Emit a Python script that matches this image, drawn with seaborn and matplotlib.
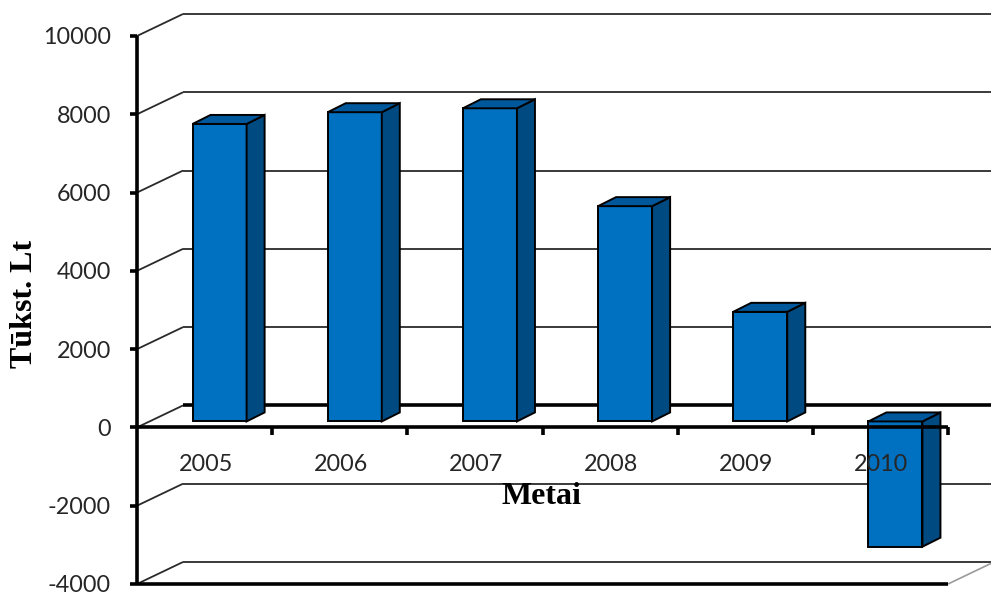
import numpy as np
import pandas as pd
import seaborn as sns
import matplotlib
matplotlib.use("Agg")
import matplotlib.pyplot as plt
from matplotlib.patches import Polygon
from matplotlib.lines import Line2D
from matplotlib.transforms import IdentityTransform

# --- data -------------------------------------------------------------
years = ["2005", "2006", "2007", "2008", "2009", "2010"]
values = [7600, 7900, 8000, 5500, 2800, -3200]
y_ticks = [-4000, -2000, 0, 2000, 4000, 6000, 8000, 10000]
y_label = "Tūkst. Lt"
x_label = "Metai"

# --- styling ----------------------------------------------------------
FRONT = "#0070C0"
SIDE = "#004A82"
TOP = "#00589C"
GRID = "#2a2a2a"
TICK_TXT = "#262626"

W, H = 991, 596
sns.set_theme(style="white")
fig = plt.figure(figsize=(W / 100, H / 100), dpi=100)
fig.patch.set_facecolor("white")

# front plane of the plot box (pixels) -> axes rectangle
left_px, right_px, top_px, bot_px = 137, 948, 36, 584
ax = fig.add_axes([left_px / W, (H - bot_px) / H,
                   (right_px - left_px) / W, (bot_px - top_px) / H])

df = pd.DataFrame({"year": years, "value": values})
sns.barplot(data=df, x="year", y="value", ax=ax, width=0.4, color=FRONT,
            saturation=1, edgecolor="black", linewidth=1.3, zorder=3)
ax.set_xlim(-0.5, len(years) - 0.5)
ax.set_ylim(min(y_ticks), max(y_ticks))
ax.axis("off")

fig.canvas.draw()
T = ax.transData
ident = IdentityTransform()

WALL = np.array([46.0, 22.0])      # depth of the box (display px, y up)
BAR_SHIFT = np.array([15.0, 6.0])  # front face of the bars inside the box
BAR_DEPTH = np.array([18.0, 9.0])  # thickness of each bar


def disp(x, y):
    return np.asarray(T.transform((x, y)), dtype=float)


def line(p, q, lw, color, z):
    fig.add_artist(Line2D([p[0], q[0]], [p[1], q[1]], lw=lw, color=color,
                          zorder=z, transform=ident, solid_capstyle="butt"))


def text(p, s, **kw):
    fig.text(p[0], p[1], s, transform=ident, **kw)


x0, x1 = -0.5, len(years) - 0.5
right_edge = W + 5

# back wall and left side wall lines
for v in y_ticks:
    a = disp(x0, v)
    b = a + WALL
    lw = 2.6 if v == 0 else 1.3
    line(a, b, 1.3, GRID, 1)
    line(b, (right_edge, b[1]), lw, "black" if v == 0 else GRID, 1)

# right edge of the floor
fl = disp(x1, min(y_ticks))
line(fl, fl + WALL, 1.2, "#9a9a9a", 1)

# bars: move front faces inside the box, then add side and top faces
for p in ax.patches:
    bx, by, bw, bh = p.get_x(), p.get_y(), p.get_width(), p.get_height()
    ll = disp(bx, by) + BAR_SHIFT
    ur = disp(bx + bw, by + bh) + BAR_SHIFT
    xl, xr = ll[0], ur[0]
    yb, yt = min(ll[1], ur[1]), max(ll[1], ur[1])
    p.set_visible(False)
    fig.add_artist(Polygon([(xl, yb), (xr, yb), (xr, yt), (xl, yt)],
                           closed=True, facecolor=FRONT, edgecolor="black",
                           lw=1.4, zorder=4, transform=ident))
    d = BAR_DEPTH
    fig.add_artist(Polygon([(xr, yb), (xr + d[0], yb + d[1]),
                            (xr + d[0], yt + d[1]), (xr, yt)],
                           closed=True, facecolor=SIDE, edgecolor="black",
                           lw=1.4, zorder=4, transform=ident))
    fig.add_artist(Polygon([(xl, yt), (xr, yt), (xr + d[0], yt + d[1]),
                            (xl + d[0], yt + d[1])],
                           closed=True, facecolor=TOP, edgecolor="black",
                           lw=1.4, zorder=4, transform=ident))

# front value axis with ticks and labels
ya = disp(x0, max(y_ticks))
yb_ = disp(x0, min(y_ticks))
line(ya, yb_, 2.6, "black", 6)
for v in y_ticks:
    a = disp(x0, v)
    line((a[0] - 7, a[1]), a, 2.6, "black", 6)
    text((a[0] - 26, a[1] - 2), f"{v}", ha="right", va="center",
         fontsize=16.8, family="Lato", color=TICK_TXT, zorder=7)

# category axis at zero and floor edge
z0 = disp(x0, 0)
z1 = disp(x1, 0)
line(z0, z1, 2.6, "black", 6)
for k in range(1, len(years) + 1):
    t = disp(x0 + k, 0)
    line(t, (t[0], t[1] - 8), 2.6, "black", 6)
f0 = disp(x0, min(y_ticks))
f1 = disp(x1, min(y_ticks))
line(f0, f1, 2.6, "black", 6)

for i, yr in enumerate(years):
    c = disp(i, 0)
    text((c[0] + 1, c[1] - 37), yr, ha="center", va="center",
         fontsize=16.8, family="Lato", color=TICK_TXT, zorder=7)

fig.text(542 / W, 1 - 497 / H, x_label, ha="center", va="center",
         fontsize=23, fontweight="bold", family="Liberation Serif",
         color="black", zorder=7)
fig.text(25 / W, 1 - 304 / H, y_label, ha="center", va="center",
         rotation=90, fontsize=23, fontweight="bold",
         family="Liberation Serif", color="black", zorder=7)

fig.savefig("out.png", dpi=100, facecolor="white")
